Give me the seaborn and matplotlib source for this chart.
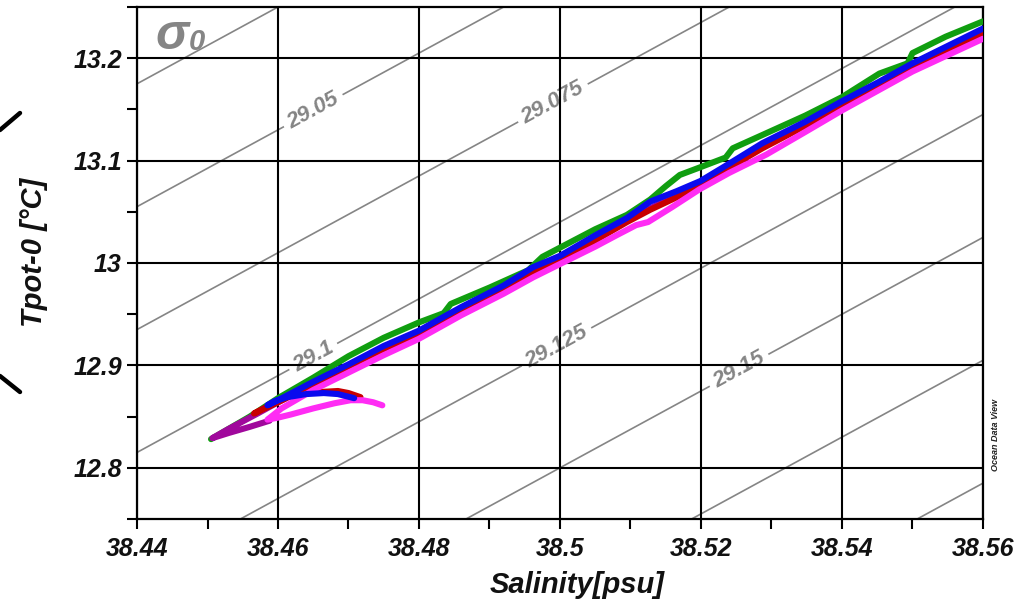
import numpy as np
import pandas as pd
import matplotlib
matplotlib.use("Agg")
import matplotlib.pyplot as plt
import seaborn as sns
from matplotlib.lines import Line2D

# ---------------- data ----------------
X_TICKS = [38.44, 38.46, 38.48, 38.50, 38.52, 38.54, 38.56]
X_TICK_LABELS = ["38.44", "38.46", "38.48", "38.5", "38.52", "38.54", "38.56"]
Y_TICKS = [12.8, 12.9, 13.0, 13.1, 13.2]
Y_TICK_LABELS = ["12.8", "12.9", "13", "13.1", "13.2"]

# isopycnals (sigma-0): temperature at S=38.44 and at S=38.56
ISO_LEVELS = ["29.025", "29.05", "29.075", "29.1", "29.125", "29.15", "29.175", "29.2"]
ISO_S_ENDS = [38.44, 38.56]
ISO_T_LEFT = [13.175, 13.055, 12.935, 12.815, 12.695, 12.575, 12.455, 12.335]
ISO_T_RIGHT = [13.625, 13.505, 13.385, 13.265, 13.145, 13.025, 12.905, 12.785]
ISO_LABEL_S = [None, 38.465, 38.499, 38.465, 38.4995, 38.5254, None, None]

GREEN_S = [38.4505, 38.4530, 38.4560, 38.4600, 38.4650, 38.4700, 38.4750, 38.4800, 38.4835,
           38.4845, 38.4900, 38.4955, 38.4975, 38.5000, 38.5050, 38.5095, 38.5128, 38.5150,
           38.5170, 38.5197, 38.5235, 38.5245, 38.5287, 38.5348, 38.5400, 38.5453, 38.5493,
           38.5500, 38.5547, 38.5600]
GREEN_T = [12.828, 12.838, 12.850, 12.868, 12.888, 12.909, 12.927, 12.942, 12.951,
           12.960, 12.976, 12.993, 13.006, 13.015, 13.033, 13.047, 13.062, 13.075,
           13.086, 13.093, 13.103, 13.112, 13.125, 13.144, 13.162, 13.185, 13.195,
           13.205, 13.221, 13.236]

PURPLE_S = [38.4588, 38.4560, 38.4530, 38.4507, 38.4530, 38.4571, 38.4600, 38.4650, 38.4700,
            38.4750, 38.4800, 38.4860, 38.4920, 38.5000, 38.5095, 38.5199, 38.5287, 38.5400,
            38.5500, 38.5600]
PURPLE_T = [12.846, 12.840, 12.834, 12.829, 12.838, 12.853, 12.864, 12.882, 12.900,
            12.917, 12.933, 12.955, 12.976, 13.005, 13.042, 13.078, 13.115, 13.156,
            13.193, 13.227]

RED_S = [38.4717, 38.4700, 38.4685, 38.4660, 38.4635, 38.4610, 38.4590, 38.4566, 38.4580,
         38.4600, 38.4650, 38.4700, 38.4750, 38.4800, 38.4860, 38.4920, 38.4962, 38.5000,
         38.5050, 38.5095, 38.5128, 38.5165, 38.5199, 38.5240, 38.5287, 38.5348, 38.5400,
         38.5450, 38.5500, 38.5550, 38.5600]
RED_T = [12.869, 12.873, 12.875, 12.874, 12.873, 12.869, 12.861, 12.853, 12.858,
         12.864, 12.881, 12.899, 12.916, 12.931, 12.953, 12.975, 12.990, 13.003,
         13.022, 13.040, 13.052, 13.064, 13.076, 13.093, 13.112, 13.134, 13.154,
         13.172, 13.191, 13.208, 13.225]

MAGENTA_S = [38.4748, 38.4735, 38.4720, 38.4703, 38.4680, 38.4650, 38.4618, 38.4600, 38.4585,
             38.4605, 38.4650, 38.4700, 38.4750, 38.4800, 38.4860, 38.4920, 38.4962, 38.5000,
             38.5050, 38.5080, 38.5108, 38.5125, 38.5160, 38.5198, 38.5240, 38.5293, 38.5348,
             38.5400, 38.5450, 38.5500, 38.5550, 38.5600]
MAGENTA_T = [12.861, 12.864, 12.866, 12.866, 12.863, 12.858, 12.852, 12.849, 12.847,
             12.858, 12.876, 12.893, 12.910, 12.926, 12.949, 12.970, 12.986, 12.999,
             13.016, 13.027, 13.037, 13.040, 13.055, 13.072, 13.088, 13.106, 13.128,
             13.149, 13.168, 13.187, 13.203, 13.219]

BLUE_S = [38.4708, 38.4685, 38.4665, 38.4640, 38.4613, 38.4595, 38.4585, 38.4600, 38.4650,
          38.4700, 38.4750, 38.4800, 38.4860, 38.4920, 38.4962, 38.5000, 38.5050, 38.5095,
          38.5128, 38.5165, 38.5199, 38.5240, 38.5287, 38.5348, 38.5400, 38.5450, 38.5500,
          38.5550, 38.5600]
BLUE_T = [12.868, 12.872, 12.873, 12.872, 12.869, 12.865, 12.861, 12.866, 12.884,
          12.901, 12.919, 12.934, 12.957, 12.978, 12.996, 13.007, 13.027, 13.044,
          13.060, 13.070, 13.080, 13.097, 13.117, 13.138, 13.158, 13.176, 13.195,
          13.212, 13.229]

SERIES = [
    ("green", GREEN_S, GREEN_T, "#109e10"),
    ("purple", PURPLE_S, PURPLE_T, "#a0089c"),
    ("red", RED_S, RED_T, "#c80000"),
    ("magenta", MAGENTA_S, MAGENTA_T, "#ff2cf4"),
    ("blue", BLUE_S, BLUE_T, "#0a0aee"),
]

# ---------------- style ----------------
sns.set_theme(style="ticks")
plt.rcParams["font.family"] = ["Liberation Sans", "DejaVu Sans"]

W, H = 1030, 609
fig = plt.figure(figsize=(W / 100, H / 100), dpi=100)
fig.patch.set_facecolor("white")
ax = fig.add_axes([137 / W, 1 - 519 / H, 846 / W, 512 / H])
ax.set_facecolor("white")
ax.set_xlim(38.44, 38.56)
ax.set_ylim(12.75, 13.25)

# isopycnals
for lev, t0, t1, ls in zip(ISO_LEVELS, ISO_T_LEFT, ISO_T_RIGHT, ISO_LABEL_S):
    ax.plot(ISO_S_ENDS, [t0, t1], color="#858585", lw=1.2, zorder=1)
    if ls is not None:
        tl = np.interp(ls, ISO_S_ENDS, [t0, t1])
        p0 = ax.transData.transform((ISO_S_ENDS[0], t0))
        p1 = ax.transData.transform((ISO_S_ENDS[1], t1))
        ang = np.degrees(np.arctan2(p1[1] - p0[1], p1[0] - p0[0]))
        ax.text(ls, tl, lev, rotation=ang, rotation_mode="anchor", ha="center", va="center",
                fontsize=16, color="#858585", fontstyle="italic", fontweight="bold", zorder=1.5,
                bbox=dict(boxstyle="square,pad=0.25", fc="white", ec="none"))

# profiles
df = pd.concat([pd.DataFrame({"S": s, "T": t, "profile": name, "i": np.arange(len(s))})
                for name, s, t, c in SERIES], ignore_index=True)
for name, s, t, c in SERIES:
    sub = df[df["profile"] == name]
    sns.lineplot(data=sub, x="S", y="T", sort=False, estimator=None, color=c, lw=4.4,
                 ax=ax, zorder=3, legend=False, solid_capstyle="round", solid_joinstyle="round")

# axes / grid
ax.set_axisbelow(False)
ax.grid(True, which="major", color="black", lw=1.5)
ax.set_xticks(X_TICKS)
ax.set_xticklabels(X_TICK_LABELS)
ax.set_yticks(Y_TICKS)
ax.set_yticklabels(Y_TICK_LABELS)
ax.set_xticks([38.45, 38.47, 38.49, 38.51, 38.53, 38.55], minor=True)
ax.set_yticks([12.75, 12.85, 12.95, 13.05, 13.15, 13.25], minor=True)
ax.tick_params(axis="both", which="both", direction="out", length=7, width=1.5, color="black")
ax.tick_params(axis="x", which="major", pad=6)
ax.tick_params(axis="y", which="major", pad=4)
for lab in ax.get_xticklabels() + ax.get_yticklabels():
    lab.set_fontsize(18)
    lab.set_fontweight("bold")
    lab.set_fontstyle("italic")
    lab.set_color("#111111")
for sp in ax.spines.values():
    sp.set_color("black")
    sp.set_linewidth(1.6)
    sp.set_visible(True)

ax.set_xlabel("Salinity[psu]", fontsize=21, fontweight="bold", fontstyle="italic", color="#111111")
ax.set_ylabel("Tpot-0 [°C]", fontsize=21, fontweight="bold", fontstyle="italic", color="#111111")
ax.xaxis.set_label_coords((577 - 137) / 846, (519 - 585) / 512)
ax.yaxis.set_label_coords((34 - 137) / 846, (519 - 252) / 512)
ax.xaxis.label.set_va("center")
ax.yaxis.label.set_va("center")

# sigma-0 label
fig.text(172 / W, 1 - 36 / H, "σ", fontsize=36, fontweight="bold", fontstyle="italic",
         color="#858585", ha="center", va="center")
fig.text(197 / W, 1 - 42 / H, "0", fontsize=21, fontweight="bold", fontstyle="italic",
         color="#858585", ha="center", va="center")

# Ocean Data View credit
fig.text(995 / W, 1 - 435 / H, "Ocean Data View", fontsize=6.5, fontweight="bold",
         fontstyle="italic", rotation=90, color="#222222", ha="center", va="center")

# slide bracket fragments at left edge
fig.add_artist(Line2D([0, 20 / W], [1 - 130 / H, 1 - 113 / H], color="black", lw=3.2,
                      transform=fig.transFigure))
fig.add_artist(Line2D([0, 20 / W], [1 - 376 / H, 1 - 392 / H], color="black", lw=3.2,
                      transform=fig.transFigure))

fig.savefig("out.png", dpi=100, facecolor="white")
